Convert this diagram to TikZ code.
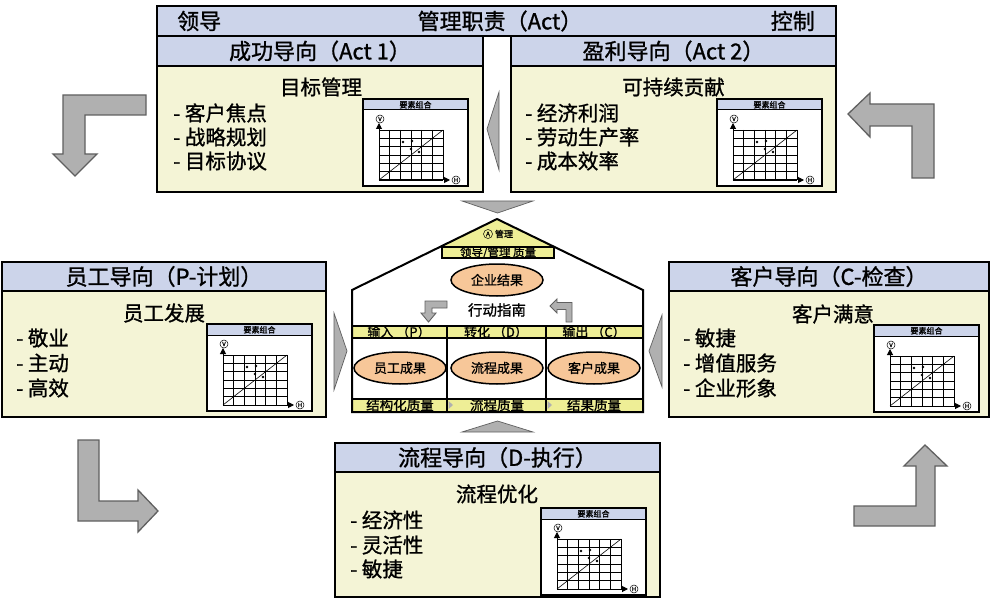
\documentclass[tikz,border=0pt]{standalone}
\usepackage{fontspec}
\setmainfont{Noto Sans CJK SC}[FakeBold=1.1]
\usetikzlibrary{arrows.meta,shapes.geometric}
\definecolor{hdrblue}{RGB}{204,212,234}
\definecolor{cream}{RGB}{244,244,214}
\definecolor{hyellow}{RGB}{238,238,150}
\definecolor{peach}{RGB}{247,199,153}
\definecolor{agray}{RGB}{176,176,176}
\definecolor{aedge}{RGB}{96,96,96}
\tikzset{
  boxline/.style={draw=black,line width=2.2pt},
  ttl/.style={font=\fontsize{22}{24}\selectfont,inner sep=0pt},
  bdy/.style={font=\fontsize{20.5}{22}\selectfont,inner sep=0pt},
  lst/.style={font=\fontsize{20.5}{22}\selectfont,inner sep=0pt,anchor=west},
  garrow/.style={fill=agray,draw=aedge,line width=1.3pt,line join=miter},
  gtri/.style={fill=agray,draw=aedge,line width=0.7pt},
  hlbl/.style={font=\fontsize{13}{13}\selectfont,inner sep=0pt},
  elli/.style={ellipse,draw=black,line width=1.5pt,fill=peach,minimum width=92pt,minimum height=32pt,inner sep=0pt,font=\fontsize{13}{13}\selectfont},
  circ/.style={circle,draw=black,line width=0.5pt,inner sep=0pt,minimum size=8pt,font=\fontsize{6}{6}\selectfont}
}
\newcommand{\inchart}[3]{%
\begin{scope}[shift={(#1,#2)}]
 \fill[white] (0,0) rectangle (105,87);
 \fill[hdrblue] (0,0) rectangle (105,11);
 \draw[line width=1pt] (0,11) -- (105,11);
 \draw[line width=1.6pt] (0,0) rectangle (105,87);
 \node[font=\fontsize{8}{8}\selectfont,inner sep=0pt] (#3t) at (52.5,5.8) {要素组合};
 \foreach \i in {0,...,6} {\draw[line width=0.6pt] ({16+\i*64/6},31) -- ({16+\i*64/6},81);}
 \foreach \j in {0,...,6} {\draw[line width=0.6pt] (16,{31+\j*50/6}) -- (80,{31+\j*50/6});}
 \draw[line width=0.6pt] (16,81) -- (80,31);
 \draw[line width=1pt,-{Triangle[length=6pt,width=6pt]}] (16,81) -- (16,24);
 \draw[line width=1pt,-{Triangle[length=6pt,width=6pt]}] (16,81) -- (87,81);
 \node[circ] (#3v) at (17,20) {V};
 \node[circ] (#3h) at (93,81) {H};
 \foreach \p in {(40,43),(49,42),(48,50),(56,53)} {\fill \p circle (1.3pt);}
\end{scope}}
\begin{document}
\begin{tikzpicture}[x=1pt,y=-1pt]
\useasboundingbox (0,0) rectangle (994,599);
\fill[white] (0,0) rectangle (994,599);

% ---------- top group ----------
\fill[hdrblue] (157,6) rectangle (836,36);
\draw[boxline] (157,6) rectangle (836,36);
\node[ttl,anchor=west] (lead) at (177,21) {领导};
\node[ttl] (mgmt) at (500,21) {管理职责（Act）};
\node[ttl,anchor=east] (ctrl) at (815,21) {控制};

% left top box
\fill[hdrblue] (157,36) rectangle (483,66);
\fill[cream] (157,66) rectangle (483,192);
\draw[boxline] (157,66) -- (483,66);
\draw[boxline] (157,36) rectangle (483,192);
\node[ttl] (t1) at (320,51) {成功导向（Act 1）};
\node[bdy] (h1) at (321,87) {目标管理};
\node[lst] (l11) at (173,113) {- 客户焦点};
\node[lst] (l12) at (173,137) {- 战略规划};
\node[lst] (l13) at (173,161) {- 目标协议};
\inchart{363}{99}{ca}

% right top box
\fill[hdrblue] (511,36) rectangle (836,66);
\fill[cream] (511,66) rectangle (836,192);
\draw[boxline] (511,66) -- (836,66);
\draw[boxline] (511,36) rectangle (836,192);
\node[ttl] (t2) at (673.5,51) {盈利导向（Act 2）};
\node[bdy] (h2) at (673.5,87) {可持续贡献};
\node[lst] (l21) at (525,113) {- 经济利润};
\node[lst] (l22) at (525,137) {- 劳动生产率};
\node[lst] (l23) at (525,161) {- 成本效率};
\inchart{717}{99}{cb}

% triangle between top boxes
\draw[gtri] (499,92) -- (487,129) -- (499,170) -- cycle;

% ---------- middle left ----------
\fill[hdrblue] (2,262) rectangle (326,291);
\fill[cream] (2,291) rectangle (326,417);
\draw[boxline] (2,291) -- (326,291);
\draw[boxline] (2,262) rectangle (326,417);
\node[ttl] (t3) at (164,276.5) {员工导向（P-计划）};
\node[bdy] (h3) at (164,313) {员工发展};
\node[lst] (l31) at (16,338) {- 敬业};
\node[lst] (l32) at (16,363) {- 主动};
\node[lst] (l33) at (16,388) {- 高效};
\inchart{207}{324}{cc}

% ---------- middle right ----------
\fill[hdrblue] (669,262) rectangle (989,291);
\fill[cream] (669,291) rectangle (989,417);
\draw[boxline] (669,291) -- (989,291);
\draw[boxline] (669,262) rectangle (989,417);
\node[ttl] (t4) at (829,276.5) {客户导向（C-检查）};
\node[bdy] (h4) at (833,314) {客户满意};
\node[lst] (l41) at (683,338) {- 敏捷};
\node[lst] (l42) at (683,363) {- 增值服务};
\node[lst] (l43) at (683,388) {- 企业形象};
\inchart{874}{325}{cd}

% ---------- bottom ----------
\fill[hdrblue] (335,443) rectangle (660,472);
\fill[cream] (335,472) rectangle (660,597);
\draw[boxline] (335,472) -- (660,472);
\draw[boxline] (335,443) rectangle (660,597);
\node[ttl] (t5) at (497.5,457.5) {流程导向（D-执行）};
\node[bdy] (h5) at (497,494) {流程优化};
\node[lst] (l51) at (350,520) {- 经济性};
\node[lst] (l52) at (350,545) {- 灵活性};
\node[lst] (l53) at (350,569) {- 敏捷};
\inchart{541}{508}{ce}

% ---------- house ----------
\fill[white] (352,412) -- (352,290) -- (497,219) -- (643,290) -- (643,412) -- cycle;
\fill[hyellow] (497,219) -- (440,247) -- (554,247) -- cycle;
\fill[hyellow] (442,247) rectangle (554,258);
\draw[line width=1.6pt] (442,247) rectangle (554,258);
\node[font=\fontsize{9}{9}\selectfont,inner sep=0pt] (amg) at (504,234) {管理};
\node[circ,minimum size=9pt,font=\fontsize{6.5}{6.5}\selectfont] (acirc) at (488,234) {A};
\node[font=\fontsize{11.5}{11.5}\selectfont,inner sep=0pt] (lmq) at (498,252.5) {领导/管理 质量};
\node[elli] (ent) at (497,280) {企业结果};
\node[font=\fontsize{14.5}{15}\selectfont,inner sep=0pt] (guide) at (497,310) {行动指南};
\draw[garrow,line width=0.9pt] (447,301) -- (425,301) -- (425,313) -- (421,313) -- (428.5,322) -- (436,313) -- (432,313) -- (432,308) -- (447,308) -- cycle;
\draw[garrow,line width=0.9pt] (550,306) -- (557,299) -- (557,302.5) -- (572,302.5) -- (572,322) -- (566,322) -- (566,309.5) -- (557,309.5) -- (557,313) -- cycle;
\fill[hyellow] (352,326) rectangle (643,338);
\fill[hyellow] (352,399) rectangle (643,411);
\draw[line width=1.6pt] (352,326) -- (643,326);
\draw[line width=1.6pt] (352,338) -- (643,338);
\draw[line width=1.6pt] (352,399) -- (643,399);
\draw[line width=1.6pt] (447,326) -- (447,411);
\draw[line width=1.6pt] (546,326) -- (546,411);
\fill[agray] (448.5,401) -- (453,405) -- (448.5,409) -- cycle;
\fill[agray] (547.5,401) -- (552,405) -- (547.5,409) -- cycle;
\draw[line width=2pt,line join=miter] (352,412) -- (352,290) -- (497,219) -- (643,290) -- (643,412) -- cycle;
\node[hlbl] (inp) at (399,332) {输入 （P）};
\node[hlbl] (trf) at (496,332) {转化 （D）};
\node[hlbl] (outp) at (594,332) {输出 （C）};
\node[elli] (emp) at (400,368) {员工成果};
\node[elli] (prc) at (497,368) {流程成果};
\node[elli] (cus) at (594,368) {客户成果};
\node[font=\fontsize{13.5}{14}\selectfont,inner sep=0pt] (sq) at (400,405) {结构化质量};
\node[font=\fontsize{13.5}{14}\selectfont,inner sep=0pt] (pq) at (497,405) {流程质量};
\node[font=\fontsize{13.5}{14}\selectfont,inner sep=0pt] (rq) at (594,405) {结果质量};

% triangles around house
\draw[gtri] (462,201) -- (533,201) -- (497.5,213) -- cycle;
\draw[gtri] (462,432) -- (533,432) -- (497.5,421) -- cycle;
\draw[gtri] (334,313) -- (347,351) -- (334,390) -- cycle;
\draw[gtri] (662,315) -- (649,351) -- (662,387) -- cycle;

% ---------- big bent arrows ----------
\draw[garrow] (146,95) -- (63,95) -- (63,154) -- (53,154) -- (75,176) -- (97,154) -- (85,154) -- (85,115) -- (146,115) -- cycle;
\draw[garrow] (848,114) -- (870,93) -- (870,104) -- (934,104) -- (934,178) -- (912,178) -- (912,126) -- (870,126) -- (870,137) -- cycle;
\draw[garrow] (78,440) -- (99,440) -- (99,501) -- (138,501) -- (138,490) -- (158,511) -- (138,532) -- (138,521) -- (78,521) -- cycle;
\draw[garrow] (854,506) -- (916,506) -- (916,466) -- (904,466) -- (925,445) -- (947,466) -- (935,466) -- (935,526) -- (854,526) -- cycle;
\end{tikzpicture}
\end{document}
